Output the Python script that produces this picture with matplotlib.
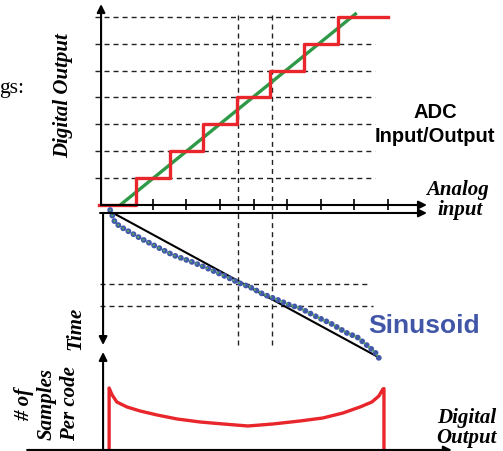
import matplotlib.pyplot as plt

# ADC transfer: analog input (LSB units) vs output code
code_edges = [1, 2, 3, 4, 5, 6, 7]
code_levels = [0, 1, 2, 3, 4, 5, 6, 7]
ramp_in = [0.53, 7.57]
ramp_out = [0.0, 7.14]
tick_inputs = [1.5, 2.5, 3.5, 4.5, 5.5, 6.5, 7.5, 8.5]
marked_inputs = [4.05, 5.05]

# Sinusoid input vs time
sine_in = [0.23, 0.38, 0.61, 1.12, 1.63, 2.10, 2.67, 3.11, 3.71, 4.07, 4.39,
           4.78, 5.23, 5.58, 5.88, 6.39, 6.78, 7.28, 7.58, 7.90, 8.11, 8.23]
sine_t = [0.0, 0.88, 1.22, 1.89, 2.50, 3.04, 3.51, 3.92, 4.53, 4.93, 5.20,
          5.68, 6.08, 6.42, 6.62, 7.23, 7.64, 8.31, 8.58, 9.19, 9.59, 10.0]
ramp_line_in = [0.32, 8.26]
ramp_line_t = [0.2, 10.0]
marked_times = [5.0, 6.49]

# Histogram: samples per code
hist_code = [0.20, 0.20, 0.29, 0.43, 0.73, 1.12, 1.63, 2.22, 2.90, 3.59, 4.33,
             5.08, 5.88, 6.56, 7.16, 7.67, 8.02, 8.23, 8.35, 8.38, 8.38]
hist_count = [0.0, 10.0, 8.85, 7.70, 6.89, 6.23, 5.57, 4.92, 4.43, 4.10, 3.77,
              4.10, 4.59, 5.08, 5.90, 6.89, 7.70, 8.69, 9.84, 9.9, 0.0]

W, H = 503, 451
fig = plt.figure(figsize=(W / 100, H / 100), dpi=100)

XLIM = (-3.048, 11.923)


def layer(name, ylim):
    a = fig.add_axes([0, 0, 1, 1], label=name)
    a.set_xlim(*XLIM)
    a.set_ylim(*ylim)
    a.set_facecolor("none")
    a.axis("off")
    return a


ax_top = layer("adc", (-9.145, 7.621))
ax_time = layer("time", (16.28, -14.19))
ax_hist = layer("hist", (-0.33, 73.6))

RED = "#e8262b"
GREEN = "#2e9a48"
BLUE = "#4358aa"
DASH = dict(color="#222222", lw=1.0, linestyle=(0, (3.6, 2.9)))
arrow = dict(arrowstyle="-|>", lw=1.5, color="black", mutation_scale=12,
             shrinkA=0, shrinkB=0)

# --- top: ADC input/output ---
ax_top.hlines(code_levels[1:], -0.22, 8.12, **DASH)
ax_top.vlines(marked_inputs, -5.2, 7.06, **DASH)
ax_top.annotate("", xy=(-0.04, 7.47), xytext=(-0.04, 0), arrowprops=arrow)
ax_top.annotate("", xy=(9.66, 0), xytext=(-0.04, 0), arrowprops=arrow)
ax_top.vlines(tick_inputs, -0.19, 0.22, color="black", lw=1.2)
ax_top.plot(ramp_in, ramp_out, color=GREEN, lw=2.4, solid_capstyle="butt")
ax_top.step([-0.1] + code_edges + [8.5], code_levels + [7], where="post",
            color=RED, lw=2.4)

# --- middle: time ---
ax_time.hlines(marked_times[0], -0.07, 7.9, **DASH)
ax_time.hlines(marked_times[1], -0.07, 8.05, **DASH)
ax_time.annotate("", xy=(9.66, 0.2), xytext=(-0.07, 0.2), arrowprops=arrow)
ax_time.annotate("", xy=(0.02, 9.12), xytext=(0.02, 0.2), arrowprops=arrow)
ax_time.plot(ramp_line_in, ramp_line_t, color="black", lw=1.5)
ax_time.plot(sine_in, sine_t, color=BLUE, lw=4.2,
             linestyle=(0, (0.01, 1.0)), dash_capstyle="round")
ax_time.plot(sine_in, sine_t, color="#55b04f", lw=1.5,
             linestyle=(0, (0.01, 2.79)), dash_capstyle="round")

# --- bottom: histogram ---
ax_hist.annotate("", xy=(10.4, -0.16), xytext=(-2.24, -0.16), arrowprops=arrow)
ax_hist.annotate("", xy=(0.02, 15.9), xytext=(0.02, -0.16), arrowprops=arrow)
ax_hist.plot(hist_code, hist_count, color=RED, lw=2.4, solid_joinstyle="round")

# --- text ---
SERIF = "Liberation Serif"
SANS = "Liberation Sans"


def put(x, y, s, **kw):
    fig.text(x / W, 1 - y / H, s, **kw)


bi = dict(family=SERIF, weight="bold", style="italic", fontsize=15,
          ha="center", va="center")
put(-1, 93, "gs:", family=SERIF, fontsize=15.5, ha="left", va="baseline")
put(63, 96, "Digital Output", rotation=90, **bi)
put(75, 328, "Time", rotation=90, **bi)
put(47, 404, "# of\nSamples\nPer code", rotation=90, linespacing=1.2,
    multialignment="center", **bi)
put(457, 190, "Analog", **bi)
put(460, 210, "input", **bi)
put(467, 418, "Digital", **bi)
put(466, 438, "Output", **bi)
put(435, 112, "ADC", family=SANS, weight="bold", fontsize=14.5,
    ha="center", va="center")
put(435, 137, "Input/Output", family=SANS, weight="bold", fontsize=14.5,
    ha="center", va="center")
put(424, 326, "Sinusoid", family=SANS, weight="bold", fontsize=19,
    color="#4256a8", ha="center", va="center")

fig.savefig("out.png", dpi=100)
